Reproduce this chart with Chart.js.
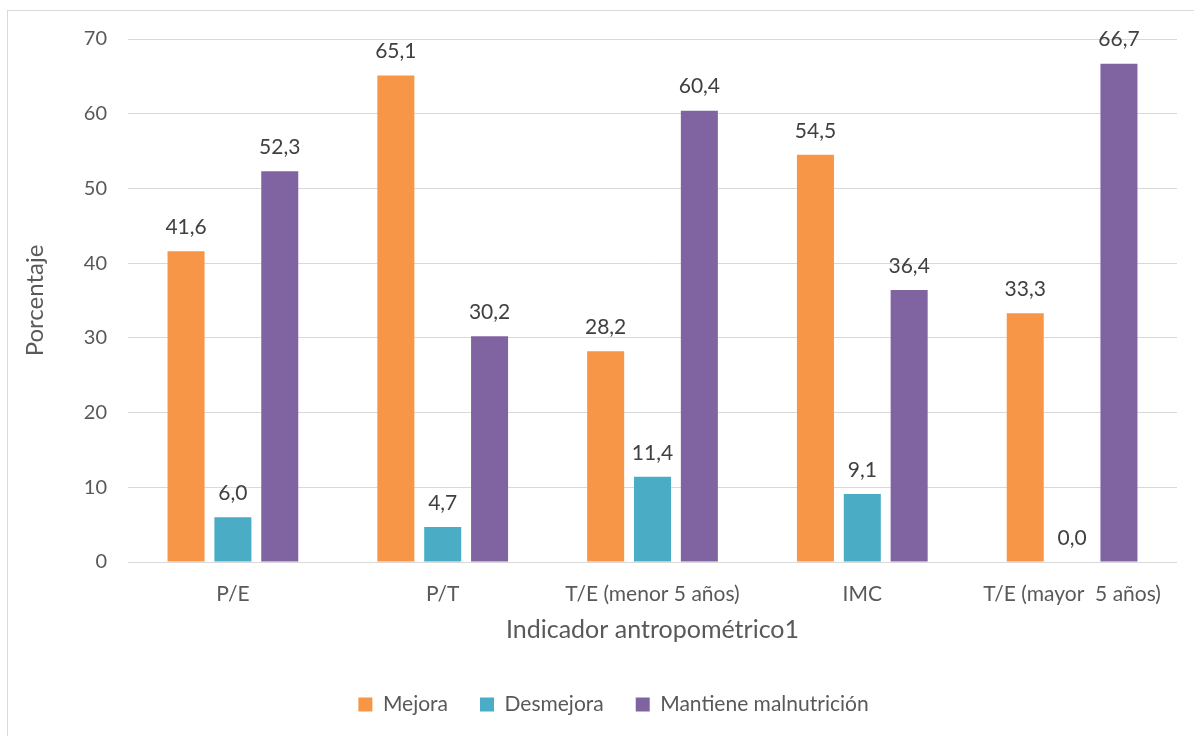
<!DOCTYPE html>
<html>
<head>
<meta charset="utf-8">
<script src="https://cdn.jsdelivr.net/npm/chart.js@4.4.1/dist/chart.umd.min.js"></script>
<style>
  html, body { margin: 0; padding: 0; background: #fff; }
</style>
</head>
<body>
<canvas id="chart" width="1194" height="736"></canvas>
<script>
// categories and series
const categories = ['P/E', 'P/T', 'T/E (menor 5 años)', 'IMC', 'T/E (mayor  5 años)'];
const mejora = [41.6, 65.1, 28.2, 54.5, 33.3];
const desmejora = [6.0, 4.7, 11.4, 9.1, 0.0];
const mantiene = [52.3, 30.2, 60.4, 36.4, 66.7];
const seriesNames = ['Mejora', 'Desmejora', 'Mantiene malnutrición'];
const yMin = 0, yMax = 70, yStep = 10;

const FONT = 'Lato';

// light frame round the whole chart
const frame = {
    id: 'frame',
    beforeDraw(chart) {
        const ctx = chart.ctx;
        ctx.save();
        ctx.fillStyle = '#fff';
        ctx.fillRect(0, 0, chart.width, chart.height);
        ctx.strokeStyle = '#d9d9d9';
        ctx.lineWidth = 1;
        ctx.strokeRect(7.5, 10.5, 1300, 900);
        ctx.restore();
    }
};

// value above each bar, decimal comma
const valueLabels = {
    id: 'valueLabels',
    afterDatasetsDraw(chart) {
        const ctx = chart.ctx;
        ctx.save();
        ctx.font = '21px ' + FONT;
        ctx.fillStyle = '#404040';
        ctx.textAlign = 'center';
        ctx.textBaseline = 'middle';
        chart.data.datasets.forEach((ds, i) => {
            chart.getDatasetMeta(i).data.forEach((bar, j) => {
                ctx.fillText(ds.data[j].toFixed(1).replace('.', ','), bar.x, bar.y - 24);
            });
        });
        ctx.restore();
    }
};

const ctx = document.getElementById('chart').getContext('2d');
new Chart(ctx, {
    type: 'bar',
    data: {
        labels: categories,
        datasets: [
            { label: seriesNames[0], data: mejora, backgroundColor: '#F79646' },
            { label: seriesNames[1], data: desmejora, backgroundColor: '#4BACC6' },
            { label: seriesNames[2], data: mantiene, backgroundColor: '#8064A2' }
        ]
    },
    options: {
        responsive: false,
        animation: false,
        events: [],
        categoryPercentage: 0.67,
        barPercentage: 0.79,
        layout: { padding: { left: 50, right: 17, top: 39, bottom: 11 } },
        scales: {
            x: {
                grid: { display: false },
                border: { display: false },
                ticks: { color: '#595959', font: { family: FONT, size: 21 }, padding: 12, maxRotation: 0, autoSkip: false },
                title: {
                    display: true,
                    text: 'Indicador antropométrico1',
                    color: '#595959',
                    font: { family: FONT, size: 25 },
                    padding: { top: 0, bottom: 17 }
                },
                afterFit(scale) { scale.height = 100; }
            },
            y: {
                min: yMin,
                max: yMax,
                grid: { color: '#d9d9d9', drawTicks: false },
                border: { display: false },
                ticks: { stepSize: yStep, color: '#595959', font: { family: FONT, size: 20 }, padding: 21 },
                title: {
                    display: true,
                    text: 'Porcentaje',
                    color: '#595959',
                    font: { family: FONT, size: 24 },
                    padding: { top: -29, bottom: 0 }
                },
                afterFit(scale) { scale.width = 78; }
            }
        },
        plugins: {
            legend: {
                position: 'bottom',
                labels: {
                    boxWidth: 14,
                    boxHeight: 14,
                    padding: 32,
                    color: '#595959',
                    font: { family: FONT, size: 21 }
                }
            },
            tooltip: { enabled: false }
        }
    },
    plugins: [frame, valueLabels]
});
</script>
</body>
</html>
